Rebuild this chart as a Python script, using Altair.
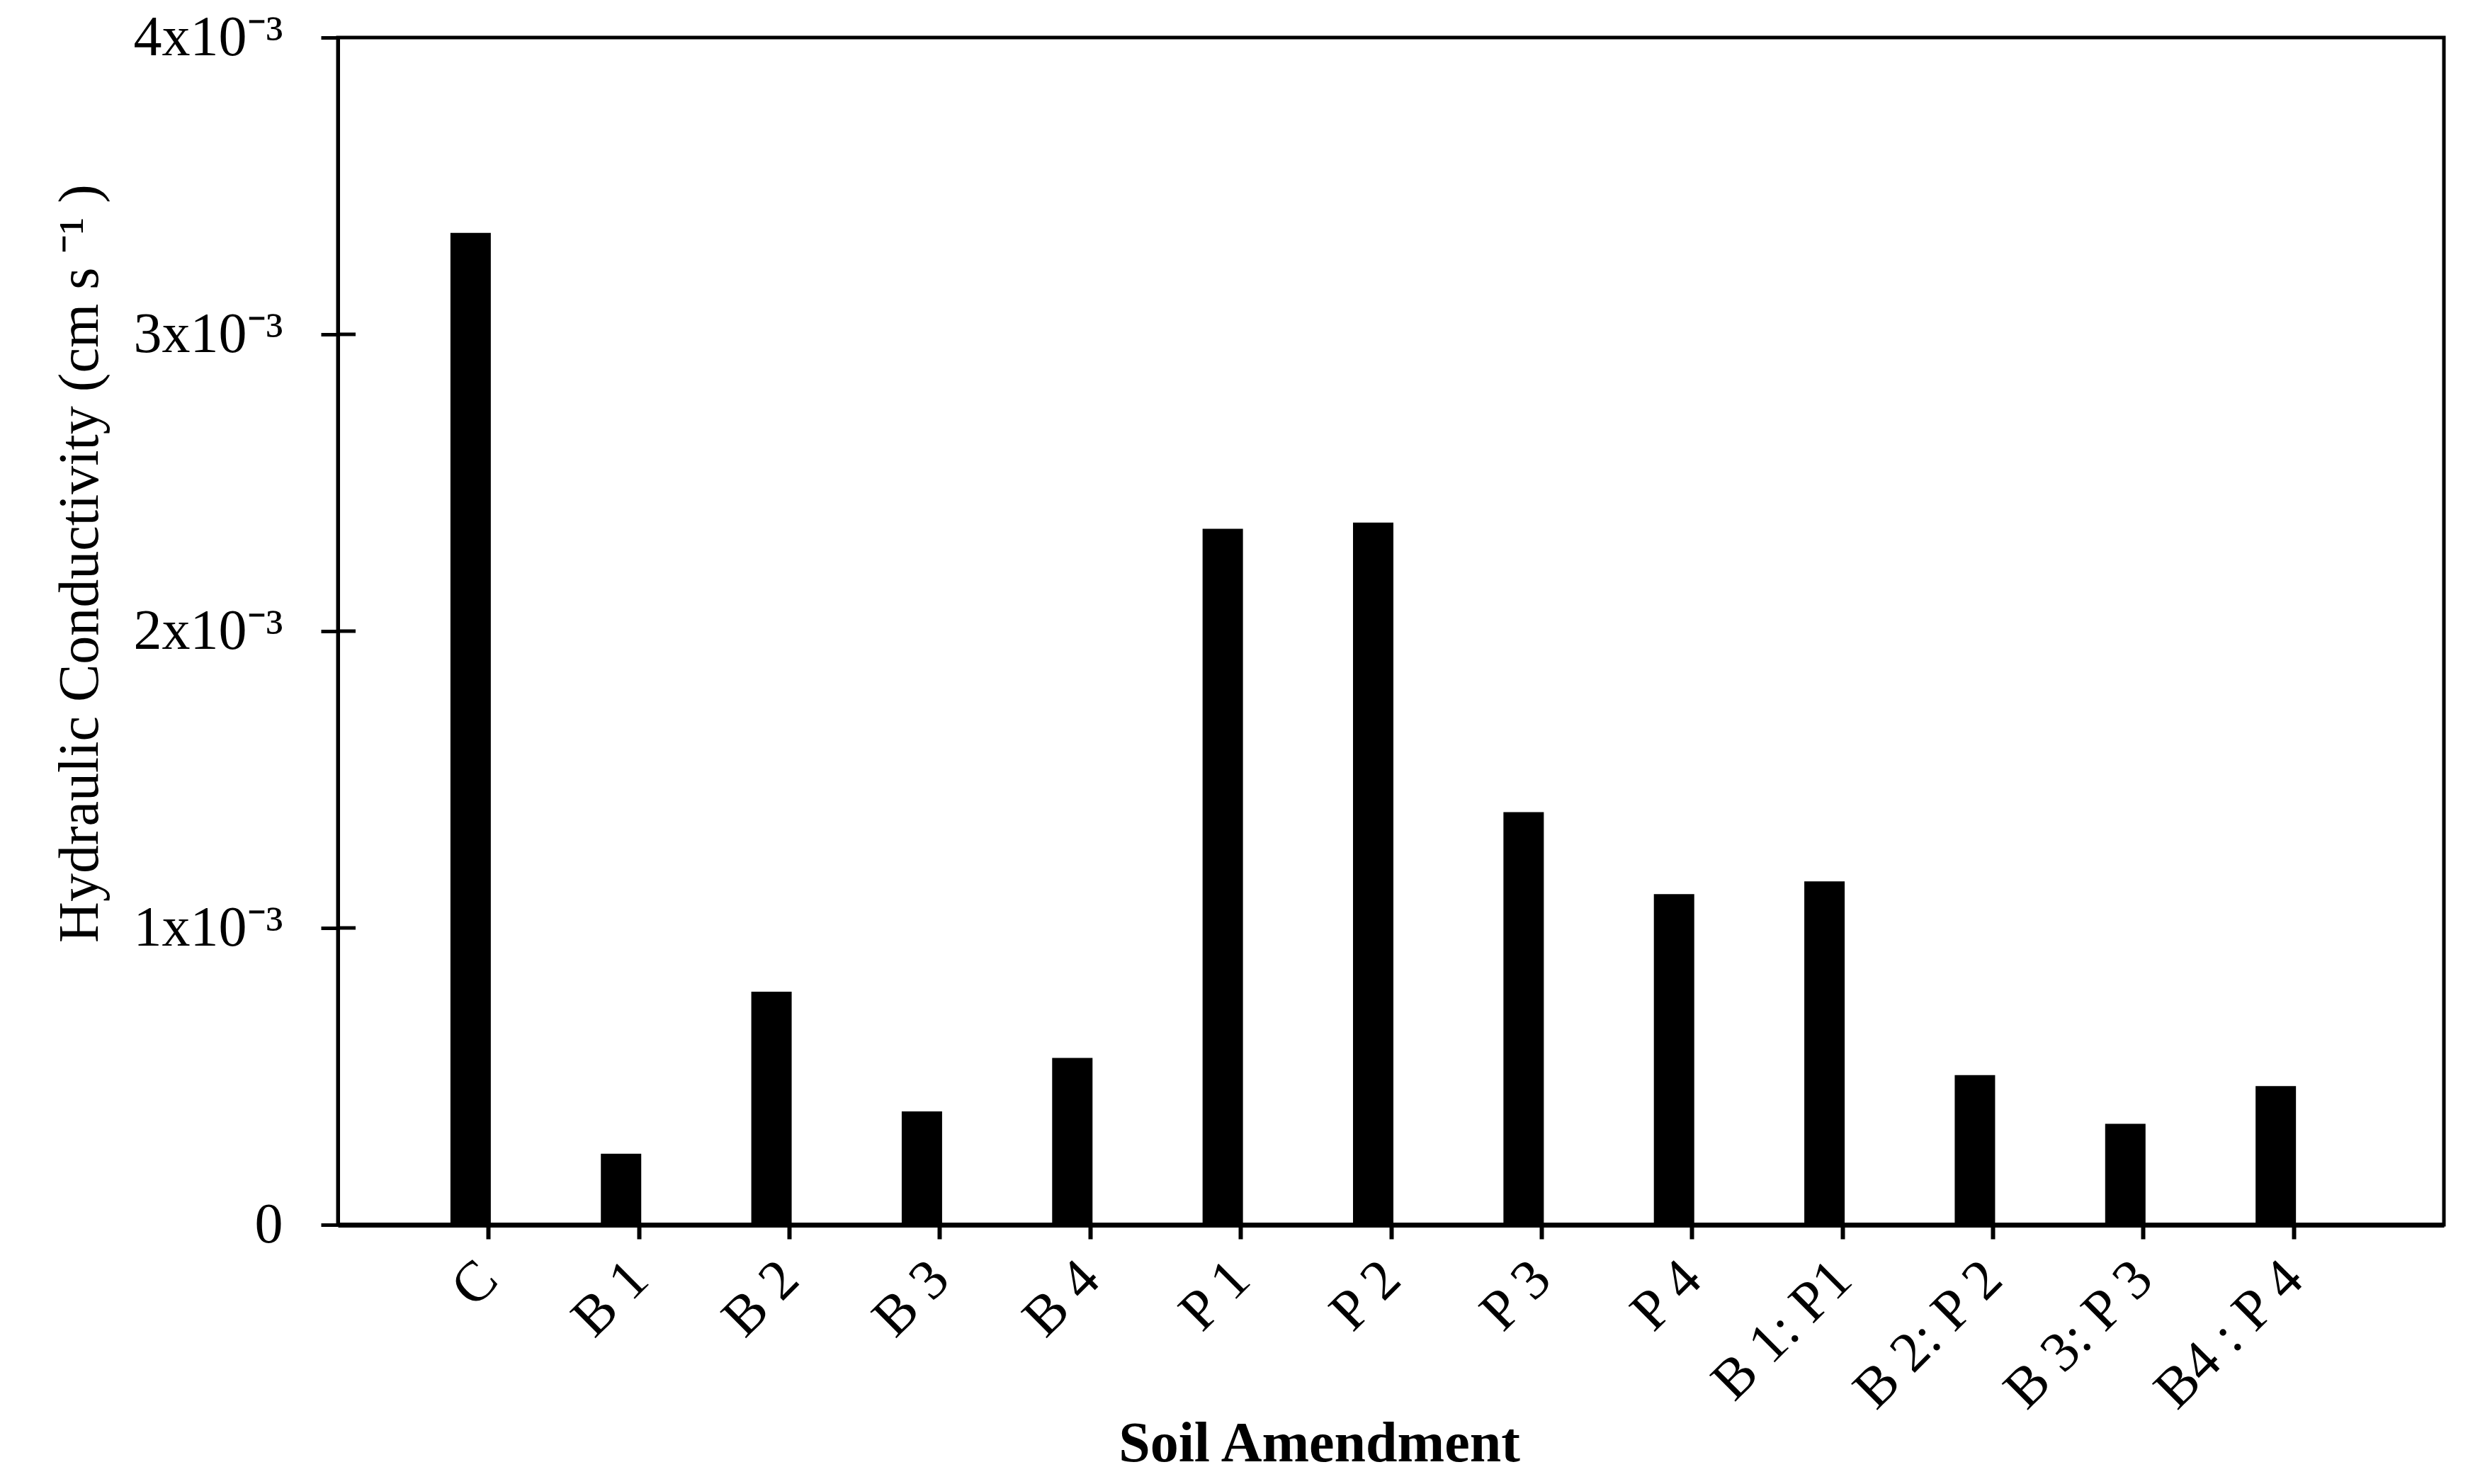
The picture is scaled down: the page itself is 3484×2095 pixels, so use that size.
import altair as alt
import pandas as pd

categories = ["C", "B 1", "B 2", "B 3", "B 4", "P 1", "P 2", "P 3", "P 4",
              "B 1: P1", "B 2: P 2", "B 3: P 3", "B4 : P 4"]
conductivity = [3.342e-3, 0.239e-3, 0.785e-3, 0.382e-3, 0.562e-3, 2.345e-3,
                2.366e-3, 1.390e-3, 1.114e-3, 1.157e-3, 0.504e-3, 0.340e-3, 0.467e-3]
y_ticks = [0, 1e-3, 2e-3, 3e-3, 4e-3]
y_tick_labels = ["0", "1x10⁻³", "2x10⁻³", "3x10⁻³", "4x10⁻³"]
inner_ticks = [1e-3, 2e-3, 3e-3]

df = pd.DataFrame({"amendment": categories, "k": conductivity})
df_ticks = pd.DataFrame({"t": inner_ticks})

FONT = "Liberation Serif"
W, H = 2973, 1676

label_array = "[" + ",".join("'" + s + "'" for s in y_tick_labels) + "]"

x_enc = alt.X(
    "amendment:N",
    sort=categories,
    scale=alt.Scale(type="point", padding=1.0),
    axis=alt.Axis(
        title="Soil Amendment",
        titleFont=FONT, titleFontSize=80, titleFontWeight="bold", titleColor="black",
        titleX=1385, titleY=333, titleBaseline="alphabetic", titleAlign="center",
        labelFont=FONT, labelFontSize=80, labelColor="black",
        labelAngle=-45, labelAlign="right", labelBaseline="middle",
        labelPadding=44, labelLimit=2000, labelOverlap=False, labelFlush=False,
        tickColor="black", tickWidth=6, tickSize=20,
        domainColor="black", domainWidth=7,
        grid=False,
    ),
)

y_scale = alt.Scale(domain=[0, 4e-3], nice=False)

bars = alt.Chart(df).mark_bar(color="black", width=57, xOffset=-25).encode(
    x=x_enc,
    y=alt.Y(
        "k:Q",
        scale=y_scale,
        axis=alt.Axis(
            title="Hydraulic Conductivity (cm s ⁻¹ )",
            titleFont=FONT, titleFontSize=80, titleFontWeight="normal", titleColor="black",
            titleAngle=-90, titleX=-340, titleY=742,
            titleBaseline="alphabetic", titleAlign="center", titleLimit=3000,
            values=y_ticks,
            labelExpr=label_array + "[round(datum.value*1000)]",
            labelFont=FONT, labelFontSize=80, labelColor="black",
            labelAlign="right", labelBaseline="middle", labelPadding=54,
            labelLimit=2000, labelOverlap=False, labelFlush=False,
            tickColor="black", tickWidth=5, tickSize=24,
            domainColor="black", domainWidth=5,
            grid=False,
        ),
    ),
)

inner = alt.Chart(df_ticks).mark_rule(color="black", strokeWidth=5).encode(
    y=alt.Y("t:Q", scale=y_scale),
    x=alt.value(0),
    x2=alt.value(25),
)

chart = alt.layer(bars, inner).properties(
    width=W,
    height=H,
    autosize=alt.AutoSizeParams(type="none"),
    padding={"left": 469, "top": 45, "right": 20, "bottom": 350},
    background="white",
).configure_view(
    stroke="black", strokeWidth=5
)

chart.save("out.html", embed_options={"renderer": "svg", "actions": False})
